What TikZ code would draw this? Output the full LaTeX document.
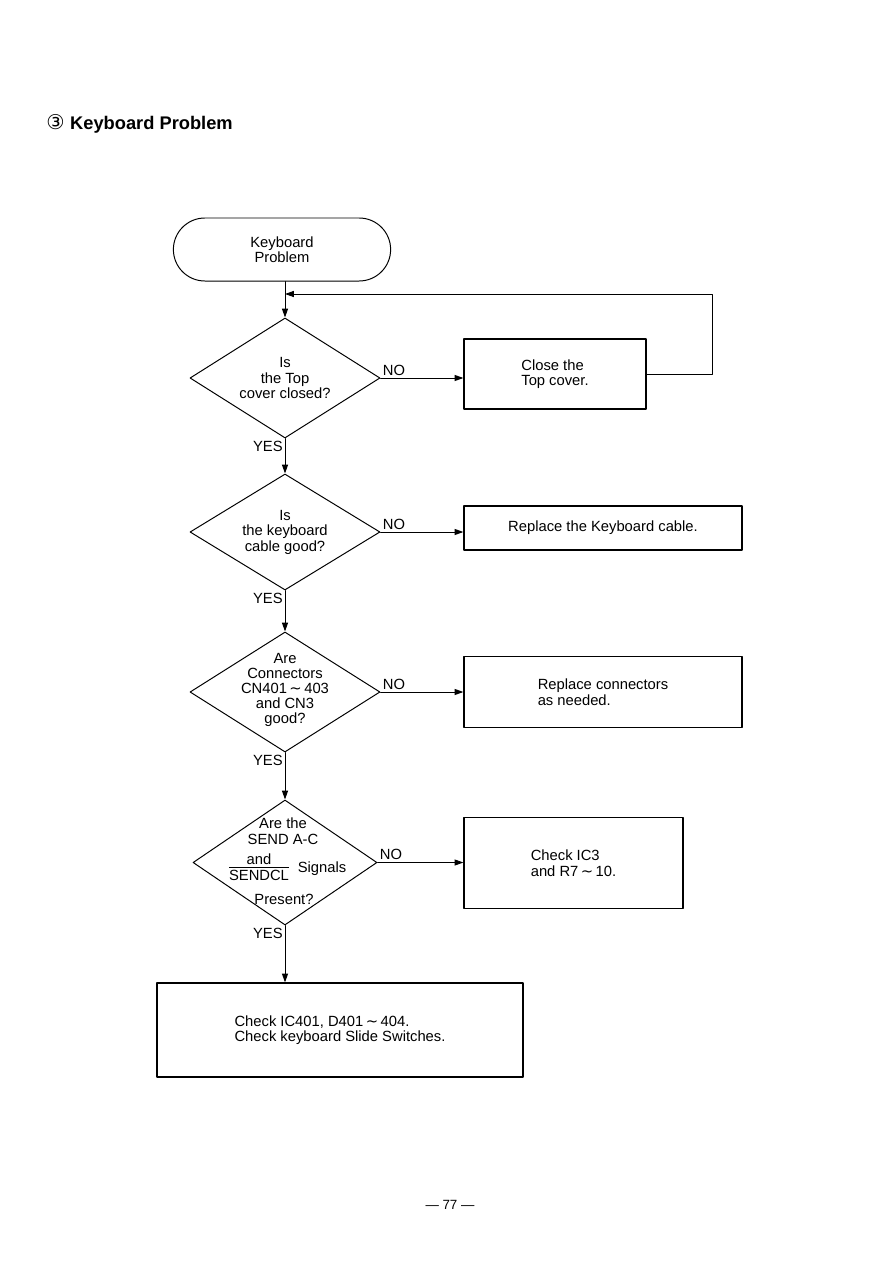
\documentclass[tikz,border=0pt]{standalone}
\usepackage{fontspec}
\setmainfont{Liberation Sans}
\newfontfamily\symfont{DejaVu Sans}
\usetikzlibrary{arrows.meta,shapes.geometric,shapes.misc}
\tikzset{
	flow/.style={line width=0.7pt,-{Triangle[length=2.2mm,width=1.5mm]}},
	txt/.style={font=\fontsize{10.5}{11}\selectfont,align=center,inner sep=1pt},
	lbl/.style={font=\fontsize{10.5}{11}\selectfont,inner sep=1.5pt},
	terminal/.style={draw,line width=0.7pt,rounded rectangle,minimum width=5.5cm,minimum height=1.575cm},
	decision/.style={draw,line width=0.7pt,diamond,inner sep=0pt,minimum width=4.75cm,minimum height=3cm},
	process/.style={draw,line width=0.8pt,rectangle,txt,align=left}
}
\newcommand{\wave}{\,{\symfont ∼}\,}
\begin{document}
\begin{tikzpicture}[line cap=round,line join=round,x=0.025cm,y=-0.025cm]
	\useasboundingbox[fill=white] (0,0) rectangle (893,1262);
	% heading and page number
	\node[anchor=west,inner sep=0pt] (title) at (46,124) {{\fontsize{14.5}{17}\symfont ③}\hspace{4pt}{\fontsize{13}{15}\selectfont\bfseries Keyboard Problem}};
	\node[font=\fontsize{9.5}{11}\selectfont,inner sep=0pt] (page) at (450,1205) {— 77 —};
	% start
	\node[terminal,txt] (start) at (282,249.5) {Keyboard\\Problem};
	% questions
	\node[decision] (d1) at (285,378) {};
	\node[txt] (q1) at (d1) {Is\\the Top\\cover closed?};
	\node[decision,minimum height=2.9cm] (d2) at (285,532) {};
	\node[txt] (q2) at (d2) {Is\\the keyboard\\cable good?};
	\node[decision] (d3) at (285,692) {};
	\node[txt,font=\fontsize{10.5}{10.7}\selectfont] (q3) at (285,690) {Are\\Connectors\\CN401\wave403\\and CN3\\good?};
	\node[decision,minimum width=4.6cm,minimum height=3.125cm] (d4) at (285,862.5) {};
	\node[txt] (q4a) at (283,831) {Are the\\SEND A-C};
	\node[txt] (q4b) at (259,867) {and\\[0pt]$\overline{\mbox{SENDCL}}$};
	\node[txt] (q4c) at (322,869) {Signals};
	\node[txt] (q4d) at (284,899) {Present?};
	% actions
	\node[process,minimum width=4.55cm,minimum height=1.75cm] (b1) at (555,374) {Close the\\Top cover.};
	\node[process,minimum width=6.95cm,minimum height=1.1cm] (b2) at (603,528) {Replace the Keyboard cable.};
	\node[process,minimum width=6.95cm,minimum height=1.775cm] (b3) at (603,692) {Replace connectors\\as needed.};
	\node[process,minimum width=5.475cm,minimum height=2.275cm] (b4) at (573.5,863) {Check IC3\\and R7\wave10.};
	\node[process,minimum width=9.15cm,minimum height=2.35cm] (b5) at (340,1030) {Check IC401, D401\wave404.\\Check keyboard Slide Switches.};
	% main line
	\draw[flow] (start.south -| d1.north) -- (d1);
	\draw[flow] (d1) -- (d2);
	\draw[flow] (d2) -- (d3);
	\draw[flow] (d3) -- (d4);
	\draw[flow] (d4.south) -- (d4.south |- b5.north);
	% NO branches
	\draw[flow] (d1.east) -- (d1.east -| b1.west);
	\draw[flow] (d2.east) -- (d2.east -| b2.west);
	\draw[flow] (d3.east) -- (d3.east -| b3.west);
	\draw[flow] (d4.east) -- (d4.east -| b4.west);
	% back to the top
	\coordinate (loop) at (712,294);
	\draw[flow] (b1.east) -| (loop) -- (loop -| d1.north);
	% labels
	\foreach \d in {d1,d2,d3,d4}{
		\node[lbl,above right] at (\d.east) {NO};
		\node[lbl,below left] at (\d.south) {YES};
	}
\end{tikzpicture}
\end{document}
